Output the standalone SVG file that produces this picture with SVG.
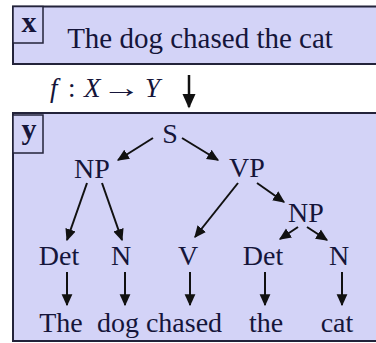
<svg xmlns="http://www.w3.org/2000/svg" width="376" height="343" viewBox="0 0 376 343">
<style>
.box{fill:#d3d3f7;stroke:#23233a;stroke-width:2}
.tag{fill:#d3d3f7;stroke:#23233a;stroke-width:1.5}
text{font-family:"Liberation Serif","Times New Roman","DejaVu Serif",serif;fill:#15153a}
.t{text-anchor:middle}
.lbl{font-size:28px}
.tagt{font-size:30px;font-weight:bold}
.m{font-size:27px}
.i{font-style:italic}
.e{stroke:#111;stroke-width:2;fill:none;marker-end:url(#ah)}
</style>
<defs>
<marker id="ah" viewBox="0 0 10 10" refX="9" refY="5" markerWidth="6" markerHeight="6" orient="auto" markerUnits="strokeWidth">
<path d="M0,0.5 L10,5 L0,9.5 Z" fill="#111"/>
</marker>
</defs>
<rect width="376" height="343" fill="#ffffff"/>
<g id="input">
<rect class="box" x="13" y="6.5" width="370" height="57.5"/>
<rect class="tag" x="13" y="6.5" width="30" height="36.5"/>
<text class="t tagt" x="29" y="32">x</text>
<text class="t" x="200" y="48" font-size="29">The dog chased the cat</text>
</g>
<g id="mapping">
<text class="m i" x="50" y="97">f</text>
<text class="m" x="68" y="97">:</text>
<text class="m i" x="84" y="97">X</text>
<text class="m" transform="translate(102,97) scale(1.45,1)" x="0" y="0">→</text>
<text class="m i" x="145" y="97">Y</text>
</g>
<g id="output">
<rect class="box" x="13" y="113" width="370" height="228"/>
<rect class="tag" x="13" y="115" width="30" height="38"/>
<text class="t tagt" x="29" y="139">y</text>
</g>
<g id="S"><text class="t lbl" x="170" y="143">S</text></g>
<g id="NP1"><text class="t lbl" x="92" y="178">NP</text></g>
<g id="VP"><text class="t lbl" x="247" y="177">VP</text></g>
<g id="NP2"><text class="t lbl" x="306" y="222">NP</text></g>
<g id="Det1"><text class="t lbl" x="59" y="265">Det</text></g>
<g id="N1"><text class="t lbl" x="121" y="265">N</text></g>
<g id="V"><text class="t lbl" x="188" y="265">V</text></g>
<g id="Det2"><text class="t lbl" x="263" y="265">Det</text></g>
<g id="N2"><text class="t lbl" x="339" y="265">N</text></g>
<g id="w1"><text class="t lbl" x="61" y="332">The</text></g>
<g id="w2"><text class="t lbl" x="118" y="332">dog</text></g>
<g id="w3"><text class="t lbl" x="184" y="332">chased</text></g>
<g id="w4"><text class="t lbl" x="266" y="332">the</text></g>
<g id="w5"><text class="t lbl" x="337" y="332">cat</text></g>
<g id="connectors">
<path class="e" d="M189,75 L189,107" style="stroke-width:2.5"/>
<path class="e" d="M153,138 L118,160"/>
<path class="e" d="M182,138 L218,160"/>
<path class="e" d="M87,183 L67,240"/>
<path class="e" d="M102,183 L122,240"/>
<path class="e" d="M238,183 L195,237"/>
<path class="e" d="M257,183 L284,202"/>
<path class="e" d="M298,227 L280,239"/>
<path class="e" d="M307,227 L327,240"/>
<path class="e" d="M67,272 L67,305"/>
<path class="e" d="M125,272 L125,305"/>
<path class="e" d="M190,272 L190,305"/>
<path class="e" d="M265,272 L265,305"/>
<path class="e" d="M342,272 L342,305"/>
</g>
</svg>
